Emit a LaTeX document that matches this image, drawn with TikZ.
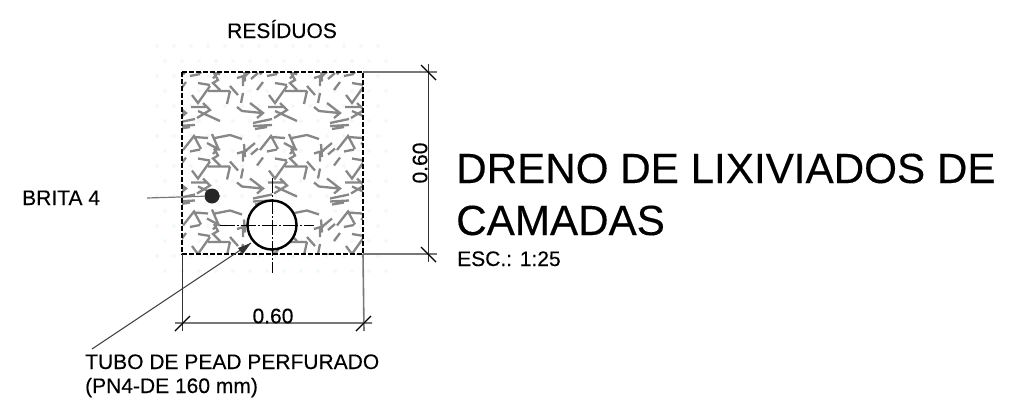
\documentclass[tikz,border=0pt]{standalone}
\usepackage{fontspec}
\setmainfont{Liberation Sans}[FakeBold=0.25]
\newfontfamily\titlefont{Liberation Sans}[FakeBold=0.3]
\definecolor{hatch}{RGB}{135,135,135}
\definecolor{dim}{RGB}{120,120,120}
\definecolor{mint}{RGB}{238,252,248}
\tikzset{
  lbl/.style={inner sep=0pt,anchor=base west,font=\fontsize{21}{21}\selectfont},
  big/.style={inner sep=0pt,anchor=base west,font=\titlefont\fontsize{42.2}{42.2}\selectfont},
  dimln/.style={line width=1pt,draw=black!80},
  dimgray/.style={line width=1.6pt,draw=dim},
  tick/.style={line width=1.4pt,draw=black},
  stone/.style={line width=2.3pt,draw=hatch},
  axis/.style={line width=.9pt,draw=black,dash pattern=on 15pt off 2pt on 2pt off 2pt},
}
\newcommand{\stones}{%
 \draw[stone] (8,4)--(18,2) (16,11)--(28,13) (26,19)--(48,19)
 (32,1)--(36,8)--(31,11)--(38,18)
 (10,23)--(16,31)--(28,14)
 (48,19)--(45,32) (48,14)--(56,23)
 (61,3)--(61,14) (55,6)--(65,3)
 (69,7)--(76,1) (75,18)--(81,10) (61,21)--(59,31)
 (55,35)--(60,39)--(80,41) (68,31)--(81,41)--(75,46)
 (9,35)--(26,35) (21,31)--(28,38)--(15,46) (16,39)--(38,49)
 (71,51)--(90,47) (71,54)--(90,53) (73,57)--(85,55)
 (1,78)--(12,64)--(19,77) (12,65)--(26,66)
 (33,66)--(48,63)--(60,67) (25,71)--(38,78) (30,62)--(36,76)--(31,82)
 (61,81)--(73,71) (62,72)--(63,85);
}
\begin{document}
\begin{tikzpicture}[x=1pt,y=-1pt]
\useasboundingbox (0,0) rectangle (1018,405);
% faint halo of the hatch
\foreach \i in {0,...,13}\foreach \j in {0,...,15}{
  \fill[mint] ({157+\i*17+mod(\j,2)*8},{46+\j*15}) circle (2pt);}
% hatching
\begin{scope}
\clip (182,72) rectangle (363,254);
\foreach \i in {-1,0,1,2}\foreach \j in {-1,0,1,2}{
  \begin{scope}[shift={(182+\i*77,72+\j*75.5)}]\stones\end{scope}}
\end{scope}
\coordinate (TL) at (182,72); \coordinate (TR) at (363,72);
\coordinate (BL) at (182,254); \coordinate (BR) at (363,254);
\draw[line width=1.4pt,dash pattern=on 5pt off 2pt] (TL) rectangle (BR);
% vertical dimension
\draw[dimgray] (TR)--(437,72) (BR)--(437,254);
\draw[dimln] (428,64)--(428,262);
\draw[tick] (421,65)--(436,80) (421,247)--(436,262);
\node[inner sep=0pt,rotate=90,font=\fontsize{21}{21}\selectfont] (vlab) at (420,163) {0.60};
% horizontal dimension
\draw[dimln] (BL)--(182,331);
\draw[dimgray] (BR)--(364,331) (175,323)--(372,323);
\draw[tick] (175,331)--(190,316) (356,331)--(371,316);
\node[inner sep=0pt,font=\fontsize{21}{21}\selectfont] (hlab) at (273,316) {0.60};
% pipe
\node[circle,draw=black,fill=white,line width=2.4pt,minimum size=49pt,inner sep=0pt] (pipe) at (272,225) {};
\draw[axis] (272,178)--(272,273);
\draw[axis] (220,225)--(314,225);
% brita dot
\node[circle,fill=black!85,minimum size=15pt,inner sep=0pt] (dot) at (212,196) {};
\coordinate (brl) at (147,198);
\draw[line width=1.2pt,draw=dim] (brl)--(dot);
% leader
\coordinate (tl) at (92,349);
\coordinate (tip) at (251,243);
\draw[line width=1pt,draw=black!75] (tl)--(tip);
\fill[black!80] (tip)--(238,248)--(243,254)--cycle;
% text
\node[lbl] (res) at (227,38) {RESÍDUOS};
\node[lbl] (bri) at (22,205) {BRITA 4};
\node[lbl] (t1) at (85,369) {TUBO DE PEAD PERFURADO};
\node[lbl] (t2) at (85,393) {(PN4-DE 160 mm)};
\node[big] (d1) at (456,183) {DRENO DE LIXIVIADOS DE};
\node[big] (d2) at (456,235) {CAMADAS};
\node[lbl] (esc) at (457,266) {ESC.: 1:25};
\end{tikzpicture}
\end{document}
